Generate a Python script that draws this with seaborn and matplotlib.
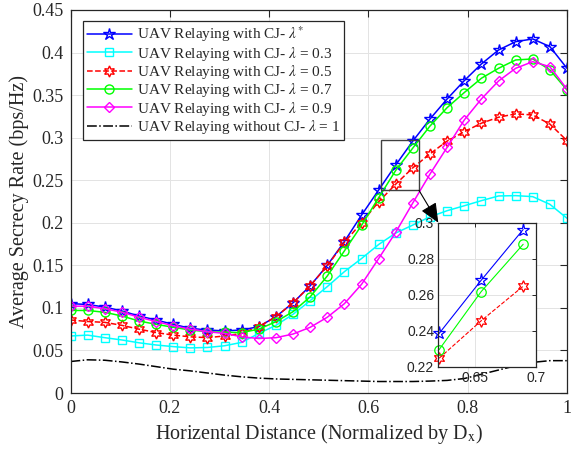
import numpy as np
import pandas as pd
import matplotlib
matplotlib.use("Agg")
import matplotlib.pyplot as plt
import seaborn as sns
from matplotlib.ticker import FuncFormatter
from matplotlib.patches import Rectangle

# Horizontal UAV position, normalised by D_x
distance = [0.0, 0.0345, 0.0690, 0.1034, 0.1379, 0.1724, 0.2069, 0.2414, 0.2759, 0.3103,
            0.3448, 0.3793, 0.4138, 0.4483, 0.4828, 0.5172, 0.5517, 0.5862, 0.6207, 0.6552,
            0.6897, 0.7241, 0.7586, 0.7931, 0.8276, 0.8621, 0.8966, 0.9310, 0.9655, 1.0]

# Average secrecy rate (bps/Hz)
rate_opt = [0.105, 0.104, 0.101, 0.0964, 0.0905, 0.0858, 0.0807, 0.076, 0.074, 0.073,
            0.074, 0.078, 0.0897, 0.106, 0.126, 0.150, 0.178, 0.209, 0.2385, 0.268,
            0.2962, 0.322, 0.3455, 0.367, 0.3866, 0.403, 0.4128, 0.416, 0.407, 0.3815]
rate_03 = [0.067, 0.068, 0.065, 0.0623, 0.059, 0.0564, 0.0545, 0.053, 0.0535, 0.0555,
           0.0595, 0.070, 0.0795, 0.0925, 0.1085, 0.125, 0.1426, 0.158, 0.1745, 0.188,
           0.1974, 0.207, 0.2142, 0.220, 0.226, 0.2315, 0.2319, 0.2307, 0.2217, 0.2053]
rate_05 = [0.0858, 0.084, 0.083, 0.0795, 0.075, 0.071, 0.068, 0.066, 0.065, 0.067,
           0.070, 0.078, 0.0897, 0.106, 0.126, 0.1493, 0.177, 0.200, 0.2247, 0.2455,
           0.2647, 0.281, 0.296, 0.307, 0.317, 0.324, 0.328, 0.3267, 0.316, 0.2965]
rate_07 = [0.097, 0.097, 0.0948, 0.0905, 0.0846, 0.0807, 0.0772, 0.074, 0.072, 0.0713,
           0.071, 0.075, 0.0838, 0.0956, 0.113, 0.1375, 0.167, 0.197, 0.2295, 0.2617,
           0.288, 0.3137, 0.3353, 0.353, 0.3698, 0.3815, 0.3913, 0.3925, 0.3796, 0.356]
rate_09 = [0.102, 0.102, 0.099, 0.095, 0.089, 0.084, 0.079, 0.075, 0.072, 0.070,
           0.066, 0.064, 0.065, 0.0693, 0.0772, 0.089, 0.105, 0.1277, 0.158, 0.189,
           0.2236, 0.2573, 0.2887, 0.3208, 0.3455, 0.3666, 0.3815, 0.3893, 0.3834, 0.357]
rate_nocj = [0.037, 0.039, 0.0385, 0.0365, 0.034, 0.031, 0.028, 0.026, 0.0235, 0.021,
             0.019, 0.0175, 0.0165, 0.016, 0.0155, 0.015, 0.0145, 0.014, 0.0135, 0.0135,
             0.0135, 0.014, 0.0148, 0.017, 0.022, 0.027, 0.032, 0.036, 0.038, 0.038]

labels = ["UAV Relaying with CJ- $\\lambda^{*}$",
          "UAV Relaying with CJ- $\\lambda$ = 0.3",
          "UAV Relaying with CJ- $\\lambda$ = 0.5",
          "UAV Relaying with CJ- $\\lambda$ = 0.7",
          "UAV Relaying with CJ- $\\lambda$ = 0.9",
          "UAV Relaying without CJ- $\\lambda$ = 1"]

x_ticks = [0, 0.2, 0.4, 0.6, 0.8, 1]
y_ticks = [0, 0.05, 0.1, 0.15, 0.2, 0.25, 0.3, 0.35, 0.4, 0.45]
inset_x_ticks = [0.65, 0.7]
inset_y_ticks = [0.22, 0.24, 0.26, 0.28, 0.3]
zoom_idx = slice(18, 21)

sns.set_theme(style="whitegrid")
plt.rcParams["font.family"] = ["Liberation Serif", "DejaVu Serif"]
plt.rcParams["mathtext.fontset"] = "stix"
plt.rcParams["axes.edgecolor"] = "#262626"
plt.rcParams["grid.color"] = "#e3e3e3"
plt.rcParams["grid.linewidth"] = 0.7

W, H = 572, 454
fig = plt.figure(figsize=(W / 100, H / 100), dpi=100)
fig.patch.set_facecolor("white")
ax = fig.add_axes([70.5 / W, 1 - 393 / H, (567 - 70.5) / W, (393 - 10) / H])

df = pd.DataFrame({"distance": distance, "opt": rate_opt, "l03": rate_03, "l05": rate_05,
                   "l07": rate_07, "l09": rate_09, "nocj": rate_nocj})

styles = [
    ("opt", (0, 0, 1), "*", 9.0, "-"),
    ("l03", (0, 1, 1), "s", 5.5, "-"),
    ("l05", (1, 0, 0), (6, 1, 0), 8.0, "--"),
    ("l07", (0, 1, 0), "o", 6.5, "-"),
    ("l09", (1, 0, 1), "D", 5.5, "-"),
    ("nocj", (0, 0, 0), None, 0, "-."),
]

for (col, color, marker, ms, ls), label in zip(styles, labels):
    kw = dict(color=color, linewidth=1.1, linestyle=ls)
    if marker is not None:
        kw.update(marker=marker, markersize=ms, markerfacecolor="none",
                  markeredgecolor=color, markeredgewidth=1.0)
    sns.lineplot(data=df, x="distance", y=col, ax=ax, label=label, **kw)

ax.set_xlim(0, 1)
ax.set_ylim(0, 0.45)
ax.set_xticks(x_ticks)
ax.set_yticks(y_ticks)
fmt = FuncFormatter(lambda v, p: f"{v:g}")
ax.xaxis.set_major_formatter(fmt)
ax.yaxis.set_major_formatter(fmt)
ax.tick_params(direction="in", length=5, width=0.8, top=True, right=True,
               labelsize=13, colors="#262626", labelcolor="#262626", pad=5)
for s in ax.spines.values():
    s.set_linewidth(0.9)
    s.set_color("#262626")
ax.grid(True)
ax.set_xlabel("Horizental Distance (Normalized by D$_{\\mathrm{x}}$)", fontsize=14.5,
              color="#262626", labelpad=4)
ax.set_ylabel("Average Secrecy Rate (bps/Hz)", fontsize=14.5, color="#262626", labelpad=2)

leg = ax.legend(loc="upper left", bbox_to_anchor=((82.7 - 70.5) / 496.5, (393 - 21) / 383),
                borderaxespad=0, fontsize=11, handlelength=3.0, handletextpad=0.3,
                labelspacing=0.02, borderpad=0.25, fancybox=False, framealpha=1,
                edgecolor="#262626")
leg.get_frame().set_linewidth(0.9)

# zoom window and arrow to the inset
ax.add_patch(Rectangle((0.625, 0.238), 0.077, 0.059, fill=False, edgecolor="#404040",
                       linewidth=1.0, zorder=5))

axins = fig.add_axes([438.3 / W, 1 - 366.7 / H, 97.4 / W, 144 / H])
for (col, color, marker, ms, ls) in styles[:4]:
    if col == "l03":
        continue
    sub = df.iloc[zoom_idx]
    sns.lineplot(data=sub, x="distance", y=col, ax=axins, color=color, linewidth=0.8,
                 linestyle=ls, marker=marker, markersize=ms * 1.05, markerfacecolor="none",
                 markeredgecolor=color, markeredgewidth=0.9, clip_on=False)
axins.set_xlim(0.62, 0.70)
axins.set_ylim(0.22, 0.30)
axins.set_xticks(inset_x_ticks)
axins.set_yticks(inset_y_ticks)
axins.xaxis.set_major_formatter(fmt)
axins.yaxis.set_major_formatter(fmt)
axins.set_xlabel("")
axins.set_ylabel("")
axins.set_facecolor("white")
axins.grid(True)
axins.tick_params(direction="in", length=3, width=0.7, top=True, right=True,
                  labelsize=10, colors="#262626", pad=3)
for lab in axins.get_xticklabels() + axins.get_yticklabels():
    lab.set_family(["Liberation Sans", "DejaVu Sans"])
for s in axins.spines.values():
    s.set_linewidth(0.9)
    s.set_color("#262626")

ax.annotate("", xy=(0, 1), xycoords=axins.transAxes,
            xytext=(0.702, 0.238), textcoords="data",
            arrowprops=dict(arrowstyle="-|>,head_length=0.8,head_width=0.35",
                            color="black", lw=0.8, shrinkA=0, shrinkB=0,
                            mutation_scale=15), zorder=6)

fig.savefig("out.png", dpi=100, facecolor="white")
